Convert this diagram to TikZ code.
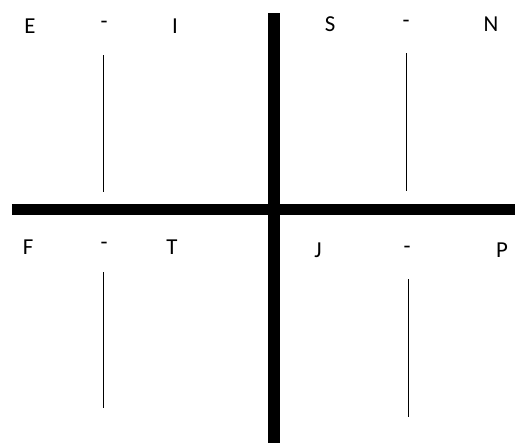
\documentclass[tikz,border=0pt]{standalone}
\usepackage{fontspec}
\setmainfont{Carlito}
\tikzset{
    letter/.style={font=\fontsize{13}{15}\selectfont, inner sep=0pt, anchor=center},
    bar/.style={line width=6.8pt},
    stem/.style={line width=0.5pt}
}
\begin{document}
\begin{tikzpicture}[x=0.02cm, y=-0.02cm]
    \useasboundingbox (0, 0) rectangle (515, 443);
    \fill[white] (0, 0) rectangle (515, 443);

    % 粗十字
    \draw[bar] (274, 13) -- (274, 443);
    \draw[bar] (12, 209.5) -- (515, 209.5);

    % 左上：E - I
    \node[letter] (E) at (30, 26) {E};
    \node[letter] (EIdash) at (104, 25) {-};
    \node[letter] (I) at (175, 26) {I};
    \draw[stem] (103, 55) -- (103, 192);

    % 右上：S - N
    \node[letter] (S) at (330, 24) {S};
    \node[letter] (SNdash) at (406, 24) {-};
    \node[letter] (N) at (491, 24) {N};
    \draw[stem] (406, 53) -- (406, 191);

    % 左下：F - T
    \node[letter] (F) at (28, 247) {F};
    \node[letter] (FTdash) at (104, 246) {-};
    \node[letter] (T) at (172, 247) {T};
    \draw[stem] (103, 272) -- (103, 408);

    % 右下：J - P
    \node[letter] (J) at (318, 250) {J};
    \node[letter] (JPdash) at (407, 250) {-};
    \node[letter] (P) at (502, 250) {P};
    \draw[stem] (408, 279) -- (408, 417);
\end{tikzpicture}
\end{document}
